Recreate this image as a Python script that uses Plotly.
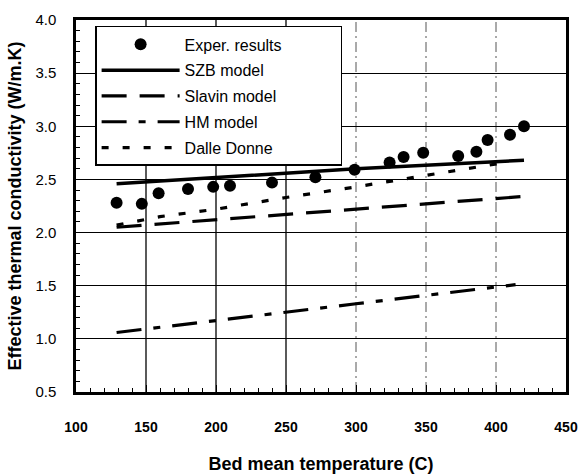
import plotly.graph_objects as go

# ---- data ----
t_exp = [129, 147, 159, 180, 198, 210, 240, 271, 299, 324, 334, 348, 373, 386, 394, 410, 420]
k_exp = [2.28, 2.27, 2.37, 2.41, 2.43, 2.44, 2.47, 2.52, 2.59, 2.66, 2.71, 2.75, 2.72, 2.76, 2.87, 2.92, 3.00]

t_szb = [129, 200, 300, 420]
k_szb = [2.46, 2.52, 2.60, 2.68]

t_slavin = [129, 200, 300, 420]
k_slavin = [2.05, 2.12, 2.22, 2.34]

t_hm = [129, 200, 300, 414]
k_hm = [1.06, 1.17, 1.33, 1.51]

t_dd = [129, 146, 160, 200, 250, 300, 350, 402]
k_dd = [2.07, 2.11, 2.15, 2.22, 2.33, 2.43, 2.54, 2.65]

x_ticks = [100, 150, 200, 250, 300, 350, 400, 450]
y_ticks = [0.5, 1.0, 1.5, 2.0, 2.5, 3.0, 3.5, 4.0]
grid_solid_x = [150, 200, 250]
grid_dashdot_x = [300, 350, 400]

FONT = "Liberation Sans, Arial, sans-serif"
pad = "\u00a0" * 12

fig = go.Figure()
fig.add_trace(go.Scatter(x=t_exp, y=k_exp, mode="markers", name="Exper. results" + pad,
                         legendgroup="a",
                         marker=dict(color="black", size=12)))
fig.add_trace(go.Scatter(x=t_szb, y=k_szb, mode="lines", name="SZB model", legendgroup="b",
                         line=dict(color="black", width=3.5)))
fig.add_trace(go.Scatter(x=t_slavin, y=k_slavin, mode="lines", name="Slavin model", legendgroup="c",
                         line=dict(color="black", width=3.2, dash="25px,13px")))
fig.add_trace(go.Scatter(x=t_hm, y=k_hm, mode="lines", name="HM model", legendgroup="d",
                         line=dict(color="black", width=3.2, dash="25px,12px,7px,12px")))
fig.add_trace(go.Scatter(x=t_dd, y=k_dd, mode="lines", name="Dalle Donne", legendgroup="e",
                         line=dict(color="black", width=3.2, dash="7px,14px")))

shapes = []
for xv in grid_solid_x:
    shapes.append(dict(type="line", xref="x", yref="paper", x0=xv, x1=xv, y0=0, y1=1,
                       line=dict(color="black", width=1.3), layer="below"))
for xv in grid_dashdot_x:
    shapes.append(dict(type="line", xref="x", yref="paper", x0=xv, x1=xv, y0=0, y1=1,
                       line=dict(color="#555555", width=1, dash="10px,4px,2px,4px"), layer="below"))

fig.update_layout(
    width=580, height=474,
    margin=dict(l=76, r=14, t=20, b=82),
    paper_bgcolor="white", plot_bgcolor="white",
    font=dict(family=FONT, color="black"),
    shapes=shapes,
    showlegend=True,
    legend=dict(x=0.039, y=0.984, xanchor="left", yanchor="top",
                bgcolor="white", bordercolor="black", borderwidth=1.5,
                font=dict(size=16, family=FONT, color="black"),
                traceorder="grouped", tracegroupgap=2, itemwidth=78),
    xaxis=dict(range=[100, 450], tickvals=x_ticks, showgrid=False, zeroline=False,
               automargin=False,
               showline=True, linecolor="black", linewidth=2.5, mirror=True,
               ticks="inside", ticklen=7, tickwidth=1.3, tickcolor="black",
               minor=dict(tickmode="linear", tick0=100, dtick=10, ticks="inside", ticklen=4,
                          tickwidth=1, tickcolor="black", showgrid=False),
               tickfont=dict(size=14, family=FONT, weight="bold"),
               ticklabelstandoff=20,
               title=dict(text="<b>Bed mean temperature (C)</b>",
                          font=dict(size=18, family=FONT), standoff=24)),
    yaxis=dict(range=[0.5, 4.0], tickvals=y_ticks, ticktext=[f"{v:.1f}" for v in y_ticks],
               showgrid=True, gridcolor="black", gridwidth=1.2, zeroline=False,
               automargin=False,
               showline=True, linecolor="black", linewidth=2.5, mirror=True,
               ticks="inside", ticklen=6, tickwidth=1.3, tickcolor="black",
               minor=dict(tickmode="linear", tick0=0.5, dtick=0.1, ticks="inside", ticklen=4,
                          tickwidth=1, tickcolor="black", showgrid=False),
               tickfont=dict(size=15, family=FONT),
               ticklabelstandoff=14,
               title=dict(text="<b>Effective thermal conductivity (W/m.K)</b>",
                          font=dict(size=18, family=FONT), standoff=10)),
)

fig.write_html("out.html", config={"displayModeBar": False},
               post_script="document.body.style.margin='0';document.body.style.padding='0';")
